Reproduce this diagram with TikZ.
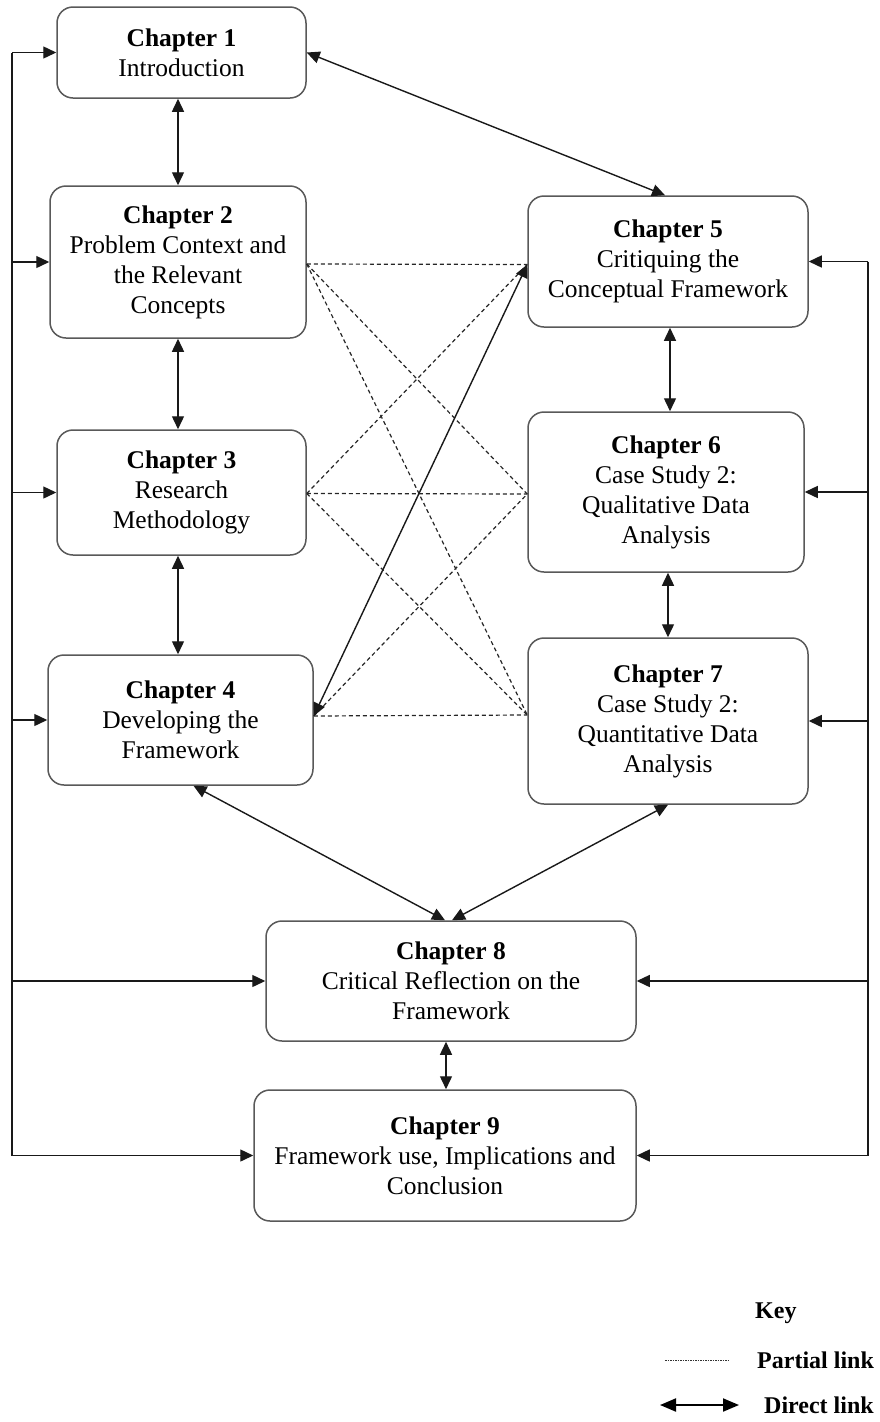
\documentclass[tikz,border=0pt]{standalone}
\usepackage{fontspec}
\setmainfont{Liberation Serif}
\usetikzlibrary{arrows.meta,calc}
\begin{document}
\begin{tikzpicture}[x=1pt,y=-1pt,
  chap/.style={draw=black!65,line width=1.5pt,rounded corners=16pt,fill=white,
    align=center,inner sep=0pt,font=\fontsize{25.5}{30}\selectfont},
  tip/.style={-{Triangle[length=13pt,width=12pt]}},
  both/.style={{Triangle[length=13pt,width=12pt]}-{Triangle[length=13pt,width=12pt]}},
  link/.style={line width=1.4pt,black!90},
  part/.style={line width=1.2pt,black!85,dash pattern=on 4pt off 3pt},
  keytext/.style={anchor=west,inner sep=0pt,font=\fontsize{24}{30}\selectfont\bfseries}]
\useasboundingbox (0,0) rectangle (880,1422);

% chapter boxes
\node[chap,minimum width=249pt,minimum height=91pt]  (c1) at (181.5,52.5) {\textbf{Chapter 1}\\Introduction};
\node[chap,minimum width=256pt,minimum height=152pt] (c2) at (178,262) {\textbf{Chapter 2}\\Problem Context and\\the Relevant\\Concepts};
\node[chap,minimum width=249pt,minimum height=125pt] (c3) at (181.5,492.5) {\textbf{Chapter 3}\\Research\\Methodology};
\node[chap,minimum width=265pt,minimum height=130pt] (c4) at (180.5,720) {\textbf{Chapter 4}\\Developing the\\Framework};
\node[chap,minimum width=280pt,minimum height=131pt] (c5) at (668,261.5) {\textbf{Chapter 5}\\Critiquing the\\Conceptual Framework};
\node[chap,minimum width=276pt,minimum height=160pt] (c6) at (666,492) {\textbf{Chapter 6}\\Case Study 2:\\Qualitative Data\\Analysis};
\node[chap,minimum width=280pt,minimum height=166pt] (c7) at (668,721) {\textbf{Chapter 7}\\Case Study 2:\\Quantitative Data\\Analysis};
\node[chap,minimum width=370pt,minimum height=120pt] (c8) at (451,981) {\textbf{Chapter 8}\\Critical Reflection on the\\Framework};
\node[chap,minimum width=382pt,minimum height=131pt] (c9) at (445,1155.5) {\textbf{Chapter 9}\\Framework use, Implications and\\Conclusion};

% attachment points of the cross links
\coordinate (p2) at ($(c2.east)+(0,2)$);
\coordinate (p3) at ($(c3.east)+(0,1)$);
\coordinate (p4) at ($(c4.east)+(0,-4)$);
\coordinate (q5) at ($(c5.west)+(0,3)$);
\coordinate (q6) at ($(c6.west)+(0,2)$);
\coordinate (q7) at ($(c7.west)+(0,-6)$);

% partial links
\draw[part] (p2) -- (q5);
\draw[part] (p2) -- (q6);
\draw[part] (p2) -- (q7);
\draw[part] (p3) -- (q5);
\draw[part] (p3) -- (q6);
\draw[part] (p3) -- (q7);
\draw[part] (p4) -- (q6);
\draw[part] (p4) -- (q7);

% direct links
\draw[link,both] (c1.south) ++(-3.5,0) coordinate (a1) -- (a1 |- c2.north);
\draw[link,both] (c2.south) -- (c2.south |- c3.north);
\draw[link,both] (c2.south |- c3.south) -- (c2.south |- c4.north);
\draw[link,both] (c5.south) ++(2,0) coordinate (a5) -- (a5 |- c6.north);
\draw[link,both] (c7.north) -- (c7.north |- c6.south);
\draw[link,both] (c9.north) ++(1,0) coordinate (a9) -- (a9 |- c8.south);
\draw[link,both] (c1.east) -- ($(c5.north)+(-3,0)$);
\draw[link,both] (p4) -- (q5);
\draw[link,both] ($(c4.south)+(13,0)$) -- ($(c8.north)+(-6,0)$);
\draw[link,both] (c7.south) -- ($(c8.north)+(1,0)$);

% left feed line
\coordinate (lx) at (12,0);
\draw[link] (c1.west -| lx) -- (c9.west -| lx);
\foreach \c in {c1,c2,c3,c4,c8,c9}
  \draw[link,tip] (\c.west -| lx) -- (\c.west);

% right feed line
\coordinate (rx) at (868,0);
\draw[link] (c5.east -| rx) -- (c9.east -| rx);
\foreach \c in {c5,c6,c7,c8,c9}
  \draw[link,tip] (\c.east -| rx) -- (\c.east);

% key
\node[keytext] (kt) at (755,1313) {Key};
\node[keytext] (kp) at (757,1360) {Partial link};
\node[keytext] (kd) at (764,1405) {Direct link};
\coordinate (kp1) at (665,1360);
\coordinate (kp2) at (729,1360);
\draw[line width=0.8pt,black!80,dash pattern=on 1.5pt off 1pt] (kp1) -- (kp2);
\coordinate (kd1) at (660,1405);
\coordinate (kd2) at (739,1405);
\draw[line width=2pt,{Triangle[length=16pt,width=13pt]}-{Triangle[length=16pt,width=13pt]}] (kd1) -- (kd2);
\end{tikzpicture}
\end{document}
